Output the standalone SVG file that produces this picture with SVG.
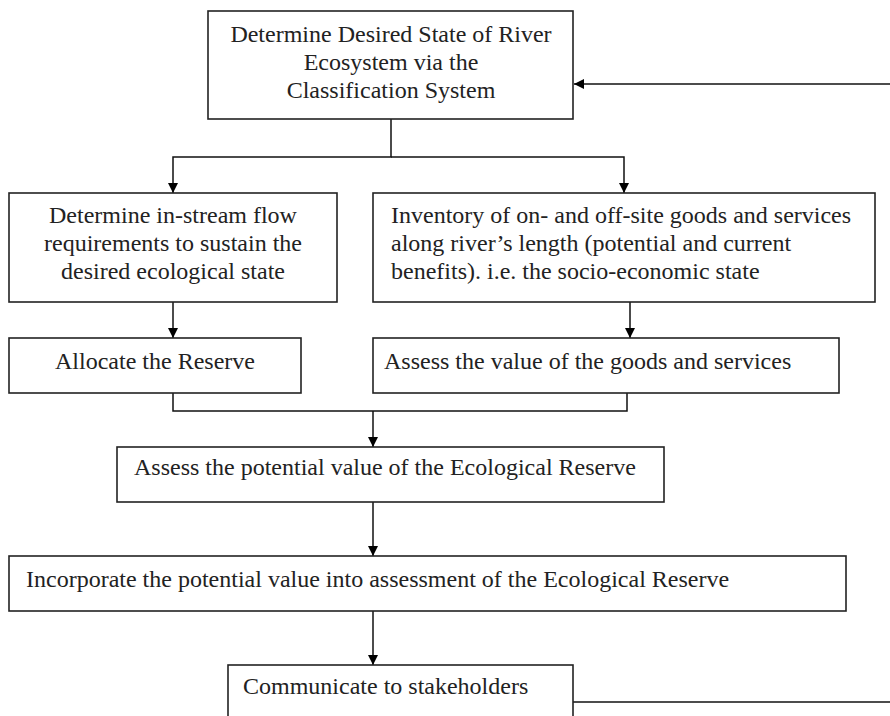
<svg xmlns="http://www.w3.org/2000/svg" width="890" height="716" viewBox="0 0 890 716">
<style>
.box{fill:#fff;stroke:#222;stroke-width:1.6}
.t{font-family:"Liberation Serif","Times New Roman",serif;font-size:24px;fill:#222}
.c{text-anchor:middle}
.ln{fill:none;stroke:#111;stroke-width:1.5}
</style>
<defs>
<marker id="ah" viewBox="0 0 10 10" refX="10" refY="5" markerWidth="10" markerHeight="10" markerUnits="userSpaceOnUse" orient="auto">
<path d="M0,0 L10,5 L0,10 Z" fill="#000"/>
</marker>
</defs>
<rect width="890" height="716" fill="#fff"/>
<g id="connectors">
<path class="ln" d="M890,84 H574" marker-end="url(#ah)"/>
<path class="ln" d="M391,119 V157 H173 V193" marker-end="url(#ah)"/>
<path class="ln" d="M391,157 H624 V193" marker-end="url(#ah)"/>
<path class="ln" d="M173,302 V338" marker-end="url(#ah)"/>
<path class="ln" d="M630,302 V338" marker-end="url(#ah)"/>
<path class="ln" d="M173,393 V411 H627 V393"/>
<path class="ln" d="M373,411 V447" marker-end="url(#ah)"/>
<path class="ln" d="M373,502 V556" marker-end="url(#ah)"/>
<path class="ln" d="M373,611 V665" marker-end="url(#ah)"/>
<path class="ln" d="M573,702 H890"/>
</g>
<g id="n1"><rect class="box" x="208" y="11" width="365" height="108"/>
<text class="t c" x="391" y="42">Determine Desired State of River</text>
<text class="t c" x="391" y="70">Ecosystem via the</text>
<text class="t c" x="391" y="98">Classification System</text></g>
<g id="n2"><rect class="box" x="9" y="193" width="328" height="109"/>
<text class="t c" x="173" y="223">Determine in-stream flow</text>
<text class="t c" x="173" y="251">requirements to sustain the</text>
<text class="t c" x="173" y="279">desired ecological state</text></g>
<g id="n3"><rect class="box" x="373" y="193" width="502" height="109"/>
<text class="t" x="391" y="223">Inventory of on- and off-site goods and services</text>
<text class="t" x="391" y="251">along river’s length (potential and current</text>
<text class="t" x="391" y="279">benefits). i.e. the socio-economic state</text></g>
<g id="n4"><rect class="box" x="9" y="338" width="292" height="55"/>
<text class="t c" x="155" y="369">Allocate the Reserve</text></g>
<g id="n5"><rect class="box" x="373" y="338" width="466" height="55"/>
<text class="t" x="384" y="369">Assess the value of the goods and services</text></g>
<g id="n6"><rect class="box" x="117" y="447" width="547" height="55"/>
<text class="t" x="134" y="475">Assess the potential value of the Ecological Reserve</text></g>
<g id="n7"><rect class="box" x="9" y="556" width="837" height="55"/>
<text class="t" x="26" y="587">Incorporate the potential value into assessment of the Ecological Reserve</text></g>
<g id="n8"><rect class="box" x="228" y="665" width="345" height="60"/>
<text class="t" x="243" y="694">Communicate to stakeholders</text></g>
</svg>
